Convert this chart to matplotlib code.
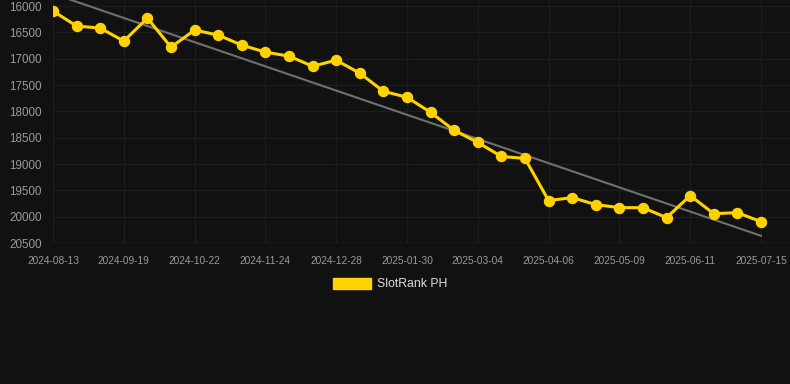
import matplotlib
matplotlib.use("Agg")
import matplotlib.pyplot as plt
from matplotlib.patches import Patch
import numpy as np

dates = ["2024-08-13", "", "", "2024-09-19", "", "", "2024-10-22", "", "", "2024-11-24", "", "",
         "2024-12-28", "", "", "2025-01-30", "", "", "2025-03-04", "", "", "2025-04-06", "", "",
         "2025-05-09", "", "", "2025-06-11", "", "", "2025-07-15"]
ranks = [16095, 16381, 16419, 16667, 16229, 16781, 16457, 16552, 16743, 16876, 16952,
         17143, 17029, 17276, 17619, 17733, 18019, 18362, 18590, 18857, 18895,
         19695, 19638, 19771, 19829, 19829, 20019, 19600, 19943, 19924, 20095]
y_ticks = [16000, 16500, 17000, 17500, 18000, 18500, 19000, 19500, 20000, 20500]
series_name = "SlotRank PH"

bg = "#111111"
gold = "#FFD200"
fig = plt.figure(figsize=(7.9, 3.84), dpi=100, facecolor=bg)
ax = fig.add_axes([53/790, 1-243/384, 737/790, 243/384])
ax.set_facecolor(bg)

x = np.arange(len(ranks))
coef = np.polyfit(x, ranks, 1)
ax.plot(x, np.polyval(coef, x), color="#707070", lw=1.5, zorder=2)
ax.plot(x, ranks, color=gold, lw=2.2, marker="o", ms=7.2, zorder=3)

ax.set_ylim(20500, 15886)
ax.set_xlim(0, 31.23)
ax.set_yticks(y_ticks)
tick_idx = [i for i, d in enumerate(dates) if d]
ax.set_xticks(tick_idx)
ax.set_xticklabels([dates[i] for i in tick_idx])
ax.grid(True, color="#1d1d1d", lw=0.9)
ax.set_axisbelow(True)
for s in ax.spines.values():
    s.set_visible(False)
ax.axhline(20500, color="#2c2c2c", lw=1, zorder=1)
ax.tick_params(axis="y", length=0, pad=8, labelsize=8.4, labelcolor="#9a9a9a")
ax.tick_params(axis="x", length=0, pad=9, labelsize=7.3, labelcolor="#9a9a9a")
for lab in ax.get_xticklabels() + ax.get_yticklabels():
    lab.set_fontfamily("Liberation Sans")

leg = fig.legend(handles=[Patch(facecolor=gold, edgecolor=gold, label=series_name)],
                 loc="center", bbox_to_anchor=(390.5/790, 1-284/384), frameon=False,
                 handlelength=3.1, handleheight=1.0, handletextpad=0.5,
                 prop={"family": "Liberation Sans", "size": 8.8})
for t in leg.get_texts():
    t.set_color("#dddddd")

fig.savefig("out.png", dpi=100, facecolor=bg)
